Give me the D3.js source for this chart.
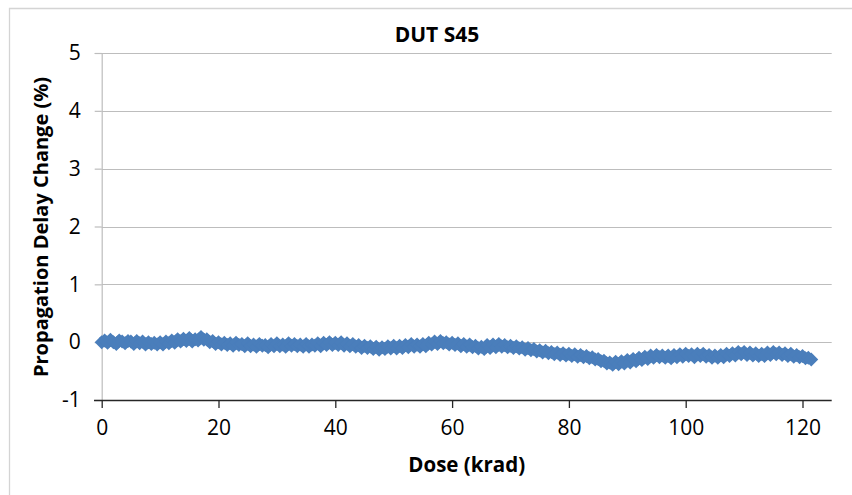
<!DOCTYPE html>
<html>
<head>
<meta charset="utf-8">
<script src="https://cdn.jsdelivr.net/npm/d3@7"></script>
<style>
  html, body { margin: 0; padding: 0; background: #fff; }
  svg { display: block; }
  text { font-family: "Open Sans", "Liberation Sans", sans-serif; fill: #000; }
</style>
</head>
<body>
<svg id="chart" width="852" height="495"></svg>
<script>
// Propagation delay drift of DUT S45 versus total ionizing dose
const chartTitle = "DUT S45";
const xTitle = "Dose (krad)";
const yTitle = "Propagation Delay Change (%)";

const xTicks = [0, 20, 40, 60, 80, 100, 120];
const yTicks = [-1, 0, 1, 2, 3, 4, 5];

// Dose readings (krad)
const dose = [
  0, 0.5, 1, 1.5, 2, 2.5, 3, 3.5, 4, 4.5, 5, 5.5, 6, 6.5, 7, 7.5, 8, 8.5, 9, 9.5,
  10, 10.5, 11, 11.5, 12, 12.5, 13, 13.5, 14, 14.5, 15, 15.5, 16, 16.5, 17, 17.5, 18, 18.5, 19, 19.5,
  20, 20.5, 21, 21.5, 22, 22.5, 23, 23.5, 24, 24.5, 25, 25.5, 26, 26.5, 27, 27.5, 28, 28.5, 29, 29.5,
  30, 30.5, 31, 31.5, 32, 32.5, 33, 33.5, 34, 34.5, 35, 35.5, 36, 36.5, 37, 37.5, 38, 38.5, 39, 39.5,
  40, 40.5, 41, 41.5, 42, 42.5, 43, 43.5, 44, 44.5, 45, 45.5, 46, 46.5, 47, 47.5, 48, 48.5, 49, 49.5,
  50, 50.5, 51, 51.5, 52, 52.5, 53, 53.5, 54, 54.5, 55, 55.5, 56, 56.5, 57, 57.5, 58, 58.5, 59, 59.5,
  60, 60.5, 61, 61.5, 62, 62.5, 63, 63.5, 64, 64.5, 65, 65.5, 66, 66.5, 67, 67.5, 68, 68.5, 69, 69.5,
  70, 70.5, 71, 71.5, 72, 72.5, 73, 73.5, 74, 74.5, 75, 75.5, 76, 76.5, 77, 77.5, 78, 78.5, 79, 79.5,
  80, 80.5, 81, 81.5, 82, 82.5, 83, 83.5, 84, 84.5, 85, 85.5, 86, 86.5, 87, 87.5, 88, 88.5, 89, 89.5,
  90, 90.5, 91, 91.5, 92, 92.5, 93, 93.5, 94, 94.5, 95, 95.5, 96, 96.5, 97, 97.5, 98, 98.5, 99, 99.5,
  100, 100.5, 101, 101.5, 102, 102.5, 103, 103.5, 104, 104.5, 105, 105.5, 106, 106.5, 107, 107.5, 108, 108.5, 109, 109.5,
  110, 110.5, 111, 111.5, 112, 112.5, 113, 113.5, 114, 114.5, 115, 115.5, 116, 116.5, 117, 117.5, 118, 118.5, 119, 119.5,
  120, 120.5, 121, 121.5
];

// Propagation delay change (%)
const delayChange = [
  0.00, 0.03, -0.01, 0.04, 0.00, -0.03, 0.03, 0.01, -0.02, 0.02, 0.01, -0.03, 0.02, -0.02, 0.01, -0.04, 0.00, -0.03, -0.01, -0.04,
  0.00, -0.04, 0.01, -0.02, 0.03, -0.01, 0.05, 0.01, 0.06, 0.02, 0.07, 0.01, 0.05, 0.03, 0.09, 0.04, 0.05, 0.00, 0.02, -0.03,
  0.00, -0.04, -0.01, -0.05, -0.02, -0.06, -0.01, -0.05, -0.03, -0.07, -0.02, -0.07, -0.04, -0.08, -0.03, -0.06, -0.05, -0.09, -0.03, -0.07,
  -0.02, -0.07, -0.04, -0.08, -0.02, -0.06, -0.03, -0.07, -0.04, -0.08, -0.03, -0.08, -0.04, -0.06, -0.02, -0.07, -0.01, -0.05, 0.00, -0.05,
  -0.01, -0.05, 0.00, -0.06, -0.02, -0.07, -0.03, -0.08, -0.05, -0.10, -0.06, -0.10, -0.07, -0.12, -0.08, -0.13, -0.09, -0.12, -0.07, -0.11,
  -0.06, -0.11, -0.06, -0.10, -0.05, -0.09, -0.03, -0.08, -0.04, -0.08, -0.03, -0.07, -0.01, -0.04, 0.01, -0.03, 0.02, -0.02, 0.00, -0.04,
  -0.01, -0.05, -0.02, -0.07, -0.03, -0.08, -0.04, -0.09, -0.06, -0.11, -0.08, -0.12, -0.05, -0.10, -0.04, -0.09, -0.03, -0.08, -0.05, -0.09,
  -0.06, -0.10, -0.07, -0.11, -0.09, -0.13, -0.10, -0.14, -0.12, -0.16, -0.14, -0.18, -0.15, -0.19, -0.17, -0.21, -0.18, -0.22, -0.19, -0.23,
  -0.20, -0.24, -0.21, -0.25, -0.22, -0.26, -0.24, -0.28, -0.26, -0.30, -0.29, -0.33, -0.32, -0.37, -0.35, -0.39, -0.34, -0.38, -0.33, -0.37,
  -0.31, -0.35, -0.29, -0.33, -0.27, -0.31, -0.25, -0.29, -0.23, -0.27, -0.22, -0.26, -0.23, -0.27, -0.23, -0.28, -0.22, -0.26, -0.21, -0.25,
  -0.20, -0.24, -0.21, -0.26, -0.20, -0.24, -0.20, -0.25, -0.22, -0.27, -0.23, -0.27, -0.22, -0.26, -0.20, -0.24, -0.19, -0.23, -0.17, -0.21,
  -0.17, -0.22, -0.18, -0.23, -0.19, -0.24, -0.20, -0.24, -0.18, -0.22, -0.17, -0.21, -0.18, -0.22, -0.19, -0.24, -0.20, -0.25, -0.22, -0.26,
  -0.24, -0.28, -0.27, -0.30
];

const svg = d3.select("#chart");
const W = 852, H = 495;
const plot = { left: 101.7, right: 831.7, top: 53, bottom: 400 };
const seriesColor = "#4a7ebb";

// Chart-area frame (only the left and top edges fall inside the view)
svg.append("path")
  .attr("d", `M9.5,${H} V8.5 H${W}`)
  .attr("fill", "none")
  .attr("stroke", "#d4d4d4")
  .attr("stroke-width", 1.3);

const x = d3.scaleLinear().domain([0, 125]).range([plot.left, plot.right]);
const y = d3.scaleLinear().domain([-1, 5]).range([plot.bottom, plot.top]);

// Horizontal gridlines
svg.append("g")
  .selectAll("line")
  .data(yTicks.filter(v => v !== -1))
  .join("line")
  .attr("x1", plot.left).attr("x2", plot.right)
  .attr("y1", d => Math.round(y(d)) + 0.5).attr("y2", d => Math.round(y(d)) + 0.5)
  .attr("stroke", "#bdbdbd")
  .attr("stroke-width", 1.2);

// Y axis: light gray spine with outward ticks
const yAxis = d3.axisLeft(y).tickValues(yTicks).tickSize(7).tickPadding(14).tickFormat(d3.format("d"));
const gy = svg.append("g").attr("transform", `translate(${plot.left},0)`).call(yAxis);
gy.select(".domain").attr("stroke", "#bdbdbd").attr("stroke-width", 1.2);
gy.selectAll(".tick line").attr("stroke", "#bdbdbd").attr("stroke-width", 1.2);
gy.selectAll(".tick text")
  .attr("font-size", 21)
  .attr("font-family", "'Open Sans', sans-serif")
  .attr("fill", "#000")
  .text(d => d < 0 ? "-" + Math.abs(d) : d);

// X axis: dark spine with downward ticks
const xAxis = d3.axisBottom(x).tickValues(xTicks).tickSize(8).tickPadding(12).tickFormat(d3.format("d"));
const gx = svg.append("g").attr("transform", `translate(0,${plot.bottom})`).call(xAxis);
gx.select(".domain").attr("d", `M${plot.left - 7.7},0.5H${plot.right}`).attr("stroke", "#262626").attr("stroke-width", 1.3);
gx.selectAll(".tick line").attr("stroke", "#262626").attr("stroke-width", 1.3);
gx.selectAll(".tick text")
  .attr("font-size", 21)
  .attr("font-family", "'Open Sans', sans-serif")
  .attr("fill", "#000");

// Series: connecting line plus diamond markers at every reading
const pts = dose.map((d, i) => [d, delayChange[i]]);
svg.append("path")
  .datum(pts)
  .attr("fill", "none")
  .attr("stroke", seriesColor)
  .attr("stroke-width", 10)
  .attr("stroke-linejoin", "round")
  .attr("d", d3.line().x(d => x(d[0])).y(d => y(d[1])));

const r = 7;
svg.append("g")
  .selectAll("path")
  .data(pts)
  .join("path")
  .attr("d", d => {
    const cx = x(d[0]), cy = y(d[1]);
    return `M${cx},${cy - r}L${cx + r},${cy}L${cx},${cy + r}L${cx - r},${cy}Z`;
  })
  .attr("fill", seriesColor);

// Titles
svg.append("text")
  .attr("x", 437).attr("y", 42)
  .attr("text-anchor", "middle")
  .attr("font-size", 21)
  .attr("font-weight", "bold")
  .text(chartTitle);

svg.append("text")
  .attr("x", 466.7).attr("y", 472)
  .attr("text-anchor", "middle")
  .attr("font-size", 20.5)
  .attr("font-weight", "bold")
  .text(xTitle);

svg.append("text")
  .attr("transform", `translate(48,227) rotate(-90)`)
  .attr("text-anchor", "middle")
  .attr("font-size", 20)
  .attr("font-weight", "bold")
  .text(yTitle);
</script>
</body>
</html>
